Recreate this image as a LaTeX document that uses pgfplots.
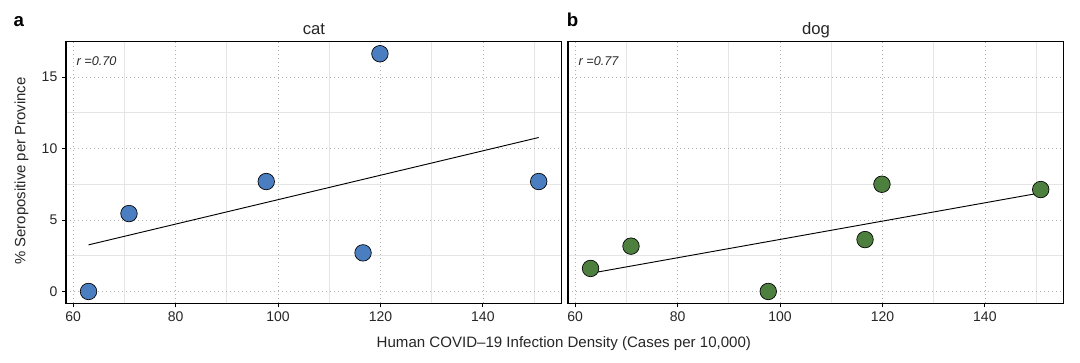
\documentclass[border=0pt]{standalone}
\usepackage{fontspec}
\setmainfont{Liberation Sans}
\usepackage{pgfplots}
\pgfplotsset{compat=1.18}
\definecolor{catblue}{HTML}{4A7EC0}
\definecolor{doggreen}{HTML}{4D7F3F}
\tikzset{
  rlab/.style={anchor=base west, inner sep=0pt, font=\fontsize{9.5}{11}\selectfont\itshape, text=black!85},
}
\pgfplotsset{
  panel/.style={
    scale only axis, width=371.8pt, height=196.2pt,
    xmin=58.6, xmax=155.4, ymin=-0.83, ymax=17.47,
    xtick={60,80,...,140}, ytick={0,5,10,15},
    minor xtick={70,90,...,150}, minor ytick={2.5,7.5,12.5},
    grid=both,
    major grid style={dash pattern=on 0.7pt off 2.3pt, color=black!30, line width=0.55pt},
    minor grid style={color=black!10, line width=0.6pt},
    axis line style={line width=0.9pt, black},
    tick align=outside, major tick length=3pt, minor tick length=0pt,
    xtick pos=bottom, ytick pos=left,
    tick style={black, line width=0.6pt},
    /pgf/number format/assume math mode=true,
    ticklabel style={font=\fontsize{10.5}{12}\selectfont, text=black!85},
  },
  pts/.style={only marks, mark=*, mark size=6.2pt, mark options={fill=#1, draw=black, line width=0.5pt}},
  fit/.style={black, line width=0.7pt, no marks},
}
\begin{document}
\begin{tikzpicture}
\useasboundingbox (0,0) rectangle (810pt,272.25pt);
\begin{axis}[panel, at={(49.5pt,44.75pt)}, anchor=south west]
\addplot[pts=catblue] coordinates {(63.0,0)(70.9,5.45)(97.7,7.69)(116.6,2.70)(119.9,16.63)(150.9,7.69)};
\addplot[fit] coordinates {(63.0,3.26)(150.9,10.77)};
\node[rlab] at (rel axis cs:0.021,0.911) {r =0.70};
\end{axis}
\begin{axis}[panel, at={(426pt,44.75pt)}, anchor=south west, yticklabels={}, ytick style={draw=none}]
\addplot[pts=doggreen] coordinates {(63.0,1.61)(70.9,3.17)(97.7,0)(116.6,3.63)(119.9,7.50)(150.9,7.13)};
\addplot[fit] coordinates {(63.0,1.27)(150.9,6.90)};
\node[rlab] at (rel axis cs:0.021,0.911) {r =0.77};
\end{axis}
\node[anchor=base, inner sep=0pt, font=\fontsize{12.5}{14}\selectfont, text=black!85] at (235.4pt,246.5pt) {cat};
\node[anchor=base, inner sep=0pt, font=\fontsize{12.5}{14}\selectfont, text=black!85] at (612pt,246.5pt) {dog};
\node[anchor=base west, inner sep=0pt, font=\fontsize{14}{16}\selectfont\bfseries] at (10pt,252pt) {a};
\node[anchor=base west, inner sep=0pt, font=\fontsize{14}{16}\selectfont\bfseries] at (425pt,252pt) {b};
\node[anchor=base, inner sep=0pt, font=\fontsize{11.3}{13}\selectfont, text=black!85] at (422.9pt,11.25pt) {Human COVID--19 Infection Density (Cases per 10,000)};
\node[anchor=base, inner sep=0pt, rotate=90, font=\fontsize{11.2}{13}\selectfont, text=black!85] at (19pt,144pt) {\% Seropositive per Province};
\end{tikzpicture}
\end{document}
